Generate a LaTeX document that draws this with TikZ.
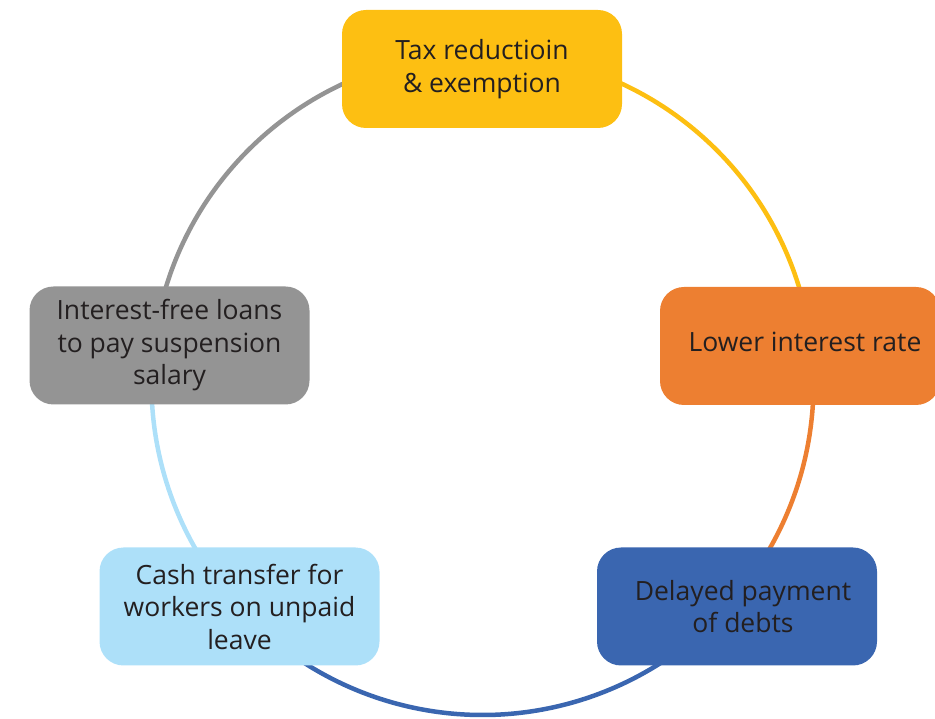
\documentclass[tikz,border=0pt]{standalone}
\usepackage{fontspec}
\setmainfont{Open Sans}
\definecolor{cyel}{HTML}{FDBF12}
\definecolor{corg}{HTML}{ED7F31}
\definecolor{cblu}{HTML}{3A66B0}
\definecolor{clbl}{HTML}{ADE0F9}
\definecolor{cgry}{HTML}{949494}
\definecolor{ctxt}{HTML}{231F20}
\begin{document}
\begin{tikzpicture}[x=1pt,y=1pt,
  box/.style={rounded corners=24pt, minimum width=280pt, minimum height=118pt,
    align=center, font=\fontsize{26.5}{32.5}\selectfont, text=ctxt, inner sep=0pt},
  ring/.style={line width=4.5pt}]
\useasboundingbox (0,0) rectangle (935,718);
\coordinate (c) at (482.5,334);
\def\R{331}
\draw[ring, cyel] (c) ++(90:\R) arc[start angle=90, end angle=7, radius=\R];
\draw[ring, corg] (c) ++(7:\R) arc[start angle=7, end angle=-41, radius=\R];
\draw[ring, cblu] (c) ++(-41:\R) arc[start angle=-41, end angle=-137.6, radius=\R];
\draw[ring, clbl] (c) ++(222.4:\R) arc[start angle=222.4, end angle=173, radius=\R];
\draw[ring, cgry] (c) ++(173:\R) arc[start angle=173, end angle=90, radius=\R];
\node[box, fill=cyel] (tax) at (482,649) {Tax reductioin\\\& exemption};
\node[box, fill=corg] (low) at (800,372) {\hspace*{10pt}\raisebox{9pt}{Lower interest rate}};
\node[box, fill=cblu] (del) at (737,111.5) {\hspace*{12pt}Delayed payment\\\hspace*{12pt}of debts};
\node[box, fill=clbl] (cash) at (239.5,111.5) {Cash transfer for\\workers on unpaid\\leave};
\node[box, fill=cgry] (int) at (169.5,372.5) {Interest-free loans\\to pay suspension\\salary};
\end{tikzpicture}
\end{document}
